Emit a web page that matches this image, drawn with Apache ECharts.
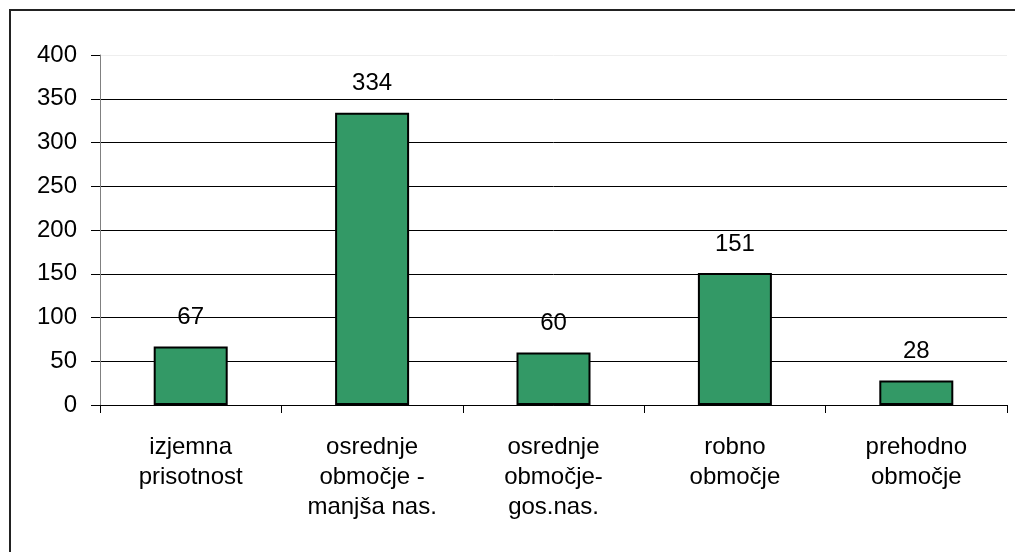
<!DOCTYPE html>
<html>
<head>
    <meta charset="utf-8">
    <script src="https://cdn.jsdelivr.net/npm/echarts@6/dist/echarts.min.js"></script>
    <style>
        body { margin: 0; background: #fff; }
        #frame { position: absolute; left: 9px; top: 9px; width: 1006px; height: 560px; border-left: 2px solid #222; border-top: 2px solid #222; box-sizing: border-box; }
    </style>
</head>
<body>
    <div id="frame"></div>
    <div id="main" style="position:absolute;left:0;top:0;width:1015px;height:552px;"></div>
    <script type="text/javascript">
        var categories = ['izjemna\nprisotnost', 'osrednje\nobmočje -\nmanjša nas.', 'osrednje\nobmočje-\ngos.nas.', 'robno\nobmočje', 'prehodno\nobmočje'];
        var values = [67, 334, 60, 151, 28];

        var myChart = echarts.init(document.getElementById('main'));
        var font = 'Liberation Sans, Arial, sans-serif';
        option = {
            animation: false,
            grid: { left: 100, right: 8, top: 55, bottom: 147 },
            xAxis: {
                type: 'category',
                data: categories,
                axisLine: { lineStyle: { color: '#000', width: 1 } },
                axisTick: { show: true, length: 8, lineStyle: { color: '#000' } },
                axisLabel: { color: '#000', fontFamily: font, fontSize: 24, lineHeight: 30, margin: 27 }
            },
            yAxis: {
                type: 'value',
                min: 0, max: 400, interval: 50,
                axisLine: { show: true, lineStyle: { color: '#808080' } },
                axisTick: { show: true, length: 9, lineStyle: { color: '#000' } },
                axisLabel: { color: '#000', fontFamily: font, fontSize: 24, margin: 23 },
                splitLine: { lineStyle: { color: ['#000', '#000', '#000', '#000', '#000', '#000', '#000', '#000', '#eeeeee'], width: 1 } }
            },
            series: [{
                type: 'bar',
                data: values,
                barWidth: 74,
                itemStyle: { color: '#339966', borderColor: '#000', borderWidth: 2 },
                label: { show: true, position: 'top', distance: 17, color: '#000', fontFamily: font, fontSize: 24 }
            }]
        };
        myChart.setOption(option);
    </script>
</body>
</html>
